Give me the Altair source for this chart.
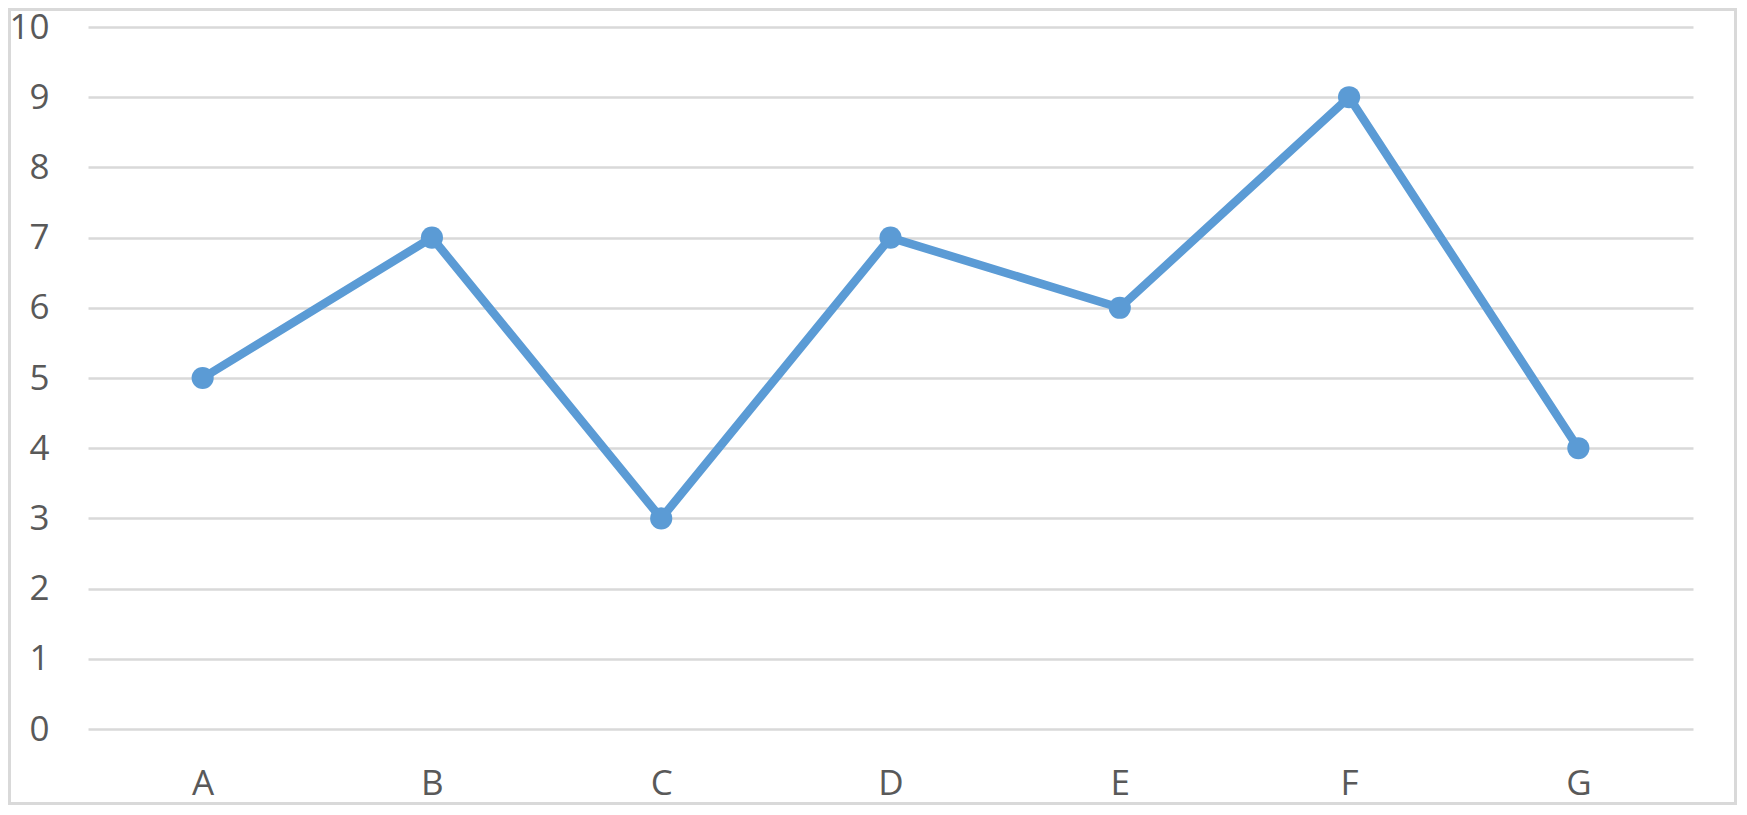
import altair as alt
import pandas as pd

categories = ["A", "B", "C", "D", "E", "F", "G"]
values = [5, 7, 3, 7, 6, 9, 4]

df = pd.DataFrame({"cat": categories, "val": values})

W, H = 1605, 702
PL, PT, PR, PB = 80, 19, 46, 78

x_enc = alt.X("cat:N", sort=categories,
              scale=alt.Scale(type="point", padding=0.5),
              axis=alt.Axis(title=None, labelAngle=0, domain=False, ticks=False,
                            labelPadding=37, labelFontSize=35, labelColor="#595959",
                            labelFont="Open Sans", grid=False))
y_enc = alt.Y("val:Q", scale=alt.Scale(domain=[0, 10], nice=False),
              axis=alt.Axis(title=None, values=list(range(0, 11)), domain=False, ticks=False,
                            labelPadding=39, labelFontSize=35, labelColor="#595959",
                            labelFont="Open Sans", gridColor="#d9d9d9", gridWidth=2.7,
                            labelBaseline="middle"))

base = alt.Chart(df).encode(x=x_enc, y=y_enc)
line = base.mark_line(color="#5b9bd5", strokeWidth=8.5)
points = base.mark_point(filled=True, color="#5b9bd5", size=490, opacity=1)

border = alt.Chart(pd.DataFrame({"b": [0]})).mark_rect(
    fill=None, stroke="#d9d9d9", strokeWidth=3
).encode(
    x=alt.value(-78.5), x2=alt.value(W + PR - 3.5),
    y=alt.value(-PT + 1.5), y2=alt.value(H + PB - 3.5)
)

chart = alt.layer(line, points, border).properties(
    width=W, height=H,
    autosize=alt.AutoSizeParams(type="none"),
    padding={"left": PL, "top": PT, "right": PR, "bottom": PB},
    background="white",
).configure_view(stroke=None, strokeWidth=0)

chart.save("out.html", embed_options={"renderer": "svg", "actions": False})
